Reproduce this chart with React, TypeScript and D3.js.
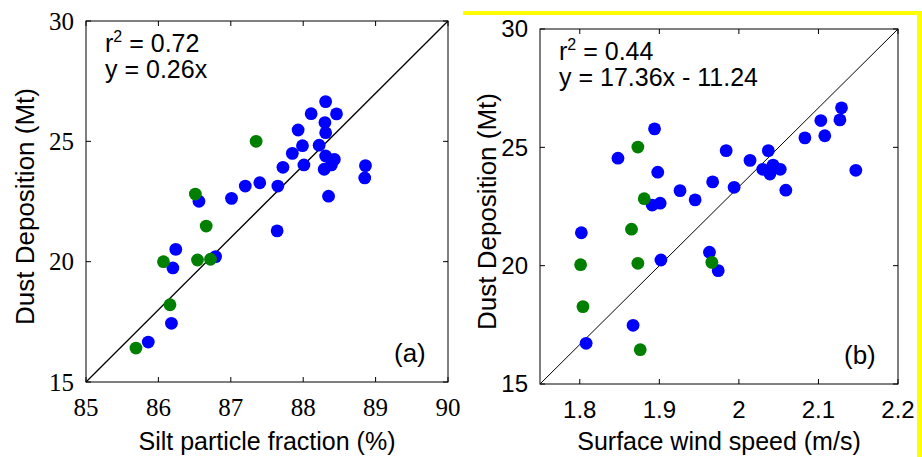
import React from "react";
import * as d3 from "d3";

// values: [x, dust deposition]
const siltBlue: [number, number][] = [
  [88.31, 26.65], [88.11, 26.15], [88.46, 26.14], [88.3, 25.78], [88.31, 25.36],
  [87.93, 25.47], [87.99, 24.82], [88.22, 24.84], [87.85, 24.5], [88.31, 24.39],
  [88.43, 24.25], [88.39, 24.02], [88.29, 23.84], [88.01, 24.02], [87.72, 23.92],
  [88.86, 23.99], [88.85, 23.48], [87.4, 23.28], [87.2, 23.14], [87.65, 23.14],
  [88.35, 22.72], [87.01, 22.63], [86.56, 22.51], [87.64, 21.28], [86.24, 20.51],
  [86.2, 19.74], [86.79, 20.21], [86.18, 17.44], [85.86, 16.66],
];
const siltGreen: [number, number][] = [
  [87.35, 25.0], [86.51, 22.81], [86.66, 21.48], [86.07, 20.0],
  [86.54, 20.07], [86.72, 20.1], [86.16, 18.21], [85.69, 16.41],
];
const windBlue: [number, number][] = [
  [1.894, 25.78], [1.848, 24.54], [1.898, 23.95], [1.984, 24.86], [2.014, 24.45],
  [2.037, 24.86], [2.03, 24.07], [2.043, 24.25], [2.052, 24.07], [2.039, 23.87],
  [2.083, 25.4], [2.059, 23.19], [1.967, 23.54], [1.994, 23.31], [1.926, 23.17],
  [1.945, 22.78], [1.891, 22.56], [1.901, 22.64], [1.802, 21.39], [2.129, 26.67],
  [2.103, 26.13], [2.127, 26.16], [2.108, 25.49], [2.147, 24.03], [1.902, 20.24],
  [1.963, 20.57], [1.974, 19.79], [1.867, 17.48], [1.808, 16.72],
];
const windGreen: [number, number][] = [
  [1.873, 25.01], [1.881, 22.83], [1.865, 21.54], [1.801, 20.04],
  [1.873, 20.1], [1.966, 20.14], [1.804, 18.27], [1.876, 16.45],
];

const yTicks = [15, 20, 25, 30];
const siltTicks = [85, 86, 87, 88, 89, 90];
const windTicks = [1.8, 1.9, 2.0, 2.1, 2.2];

const sans = "'Liberation Sans', Arial, sans-serif";
const serif = "'Liberation Serif', 'Times New Roman', serif";

type PanelProps = {
  box: { left: number; right: number; top: number; bottom: number };
  xDomain: [number, number];
  xTicks: number[];
  blue: [number, number][];
  green: [number, number][];
  tickFont: string;
  tickSize: number;
  xLabel: string;
  r2: string;
  eq: string;
  tag: string;
  yLabelX: number;
  lineWidth: number;
};

function Panel(p: PanelProps) {
  const { box } = p;
  const x = d3.scaleLinear().domain(p.xDomain).range([box.left, box.right]);
  const y = d3.scaleLinear().domain([15, 30]).range([box.bottom, box.top]);
  const tl = 5;
  const diag = d3.line<[number, number]>().x(d => x(d[0])).y(d => y(d[1]));
  return (
    <g>
      <rect x={box.left} y={box.top} width={box.right - box.left} height={box.bottom - box.top}
        fill="white" stroke="black" strokeWidth={1} />
      {p.xTicks.map(t => (
        <g key={`xt${t}`}>
          <line x1={x(t)} x2={x(t)} y1={box.bottom} y2={box.bottom - tl} stroke="black" />
          <line x1={x(t)} x2={x(t)} y1={box.top} y2={box.top + tl} stroke="black" />
          <text x={x(t)} y={box.bottom + 34} textAnchor="middle" fontFamily={p.tickFont}
            fontSize={p.tickSize}>{String(t)}</text>
        </g>
      ))}
      {yTicks.map(t => (
        <g key={`yt${t}`}>
          <line x1={box.left} x2={box.left + tl} y1={y(t)} y2={y(t)} stroke="black" />
          <line x1={box.right} x2={box.right - tl} y1={y(t)} y2={y(t)} stroke="black" />
          <text x={box.left - 12} y={y(t)} dy="0.35em" textAnchor="end" fontFamily={p.tickFont}
            fontSize={p.tickSize}>{t}</text>
        </g>
      ))}
      <path d={diag([[p.xDomain[0], 15], [p.xDomain[1], 30]]) ?? ""} stroke="black"
        strokeWidth={p.lineWidth} fill="none" />
      {p.blue.map((d, i) => (
        <circle key={`b${i}`} cx={x(d[0])} cy={y(d[1])} r={6.4} fill="#0000ff" />
      ))}
      {p.green.map((d, i) => (
        <circle key={`g${i}`} cx={x(d[0])} cy={y(d[1])} r={6.4} fill="#007f00" />
      ))}
      <text x={box.left + 19} y={box.top + 31} fontFamily={sans} fontSize={25}>
        r<tspan dy={-10} fontSize={16}>2</tspan><tspan dy={10}> = {p.r2}</tspan>
      </text>
      <text x={box.left + 19} y={box.top + 57} fontFamily={sans} fontSize={25}>{p.eq}</text>
      <text x={box.right - 54} y={box.bottom - 20} fontFamily={sans} fontSize={26}>{p.tag}</text>
      <text x={(box.left + box.right) / 2} y={450} textAnchor="middle" fontFamily={sans}
        fontSize={25}>{p.xLabel}</text>
      <text transform={`translate(${p.yLabelX},${(box.top + box.bottom) / 2 + 5}) rotate(-90)`}
        textAnchor="middle" fontFamily={sans} fontSize={26}>Dust Deposition (Mt)</text>
    </g>
  );
}

export default function App() {
  return (
    <div style={{ position: "absolute", left: 0, top: 0 }}>
      <svg width={922} height={457} style={{ display: "block", background: "white" }}>
        <rect x={463} y={11} width={459} height={4} fill="#ffff00" />
        <rect x={917} y={11} width={5} height={446} fill="#ffff00" />
        <Panel box={{ left: 86, right: 448, top: 21, bottom: 382 }} xDomain={[85, 90]}
          xTicks={siltTicks} blue={siltBlue} green={siltGreen} tickFont={serif} tickSize={25}
          xLabel="Silt particle fraction (%)" r2="0.72" eq="y = 0.26x" tag="(a)" yLabelX={34}
          lineWidth={1.3} />
        <Panel box={{ left: 540, right: 898, top: 29, bottom: 384 }} xDomain={[1.75, 2.2]}
          xTicks={windTicks} blue={windBlue} green={windGreen} tickFont={sans} tickSize={24}
          xLabel="Surface wind speed (m/s)" r2="0.44" eq="y = 17.36x - 11.24" tag="(b)"
          yLabelX={496} lineWidth={1} />
      </svg>
    </div>
  );
}
